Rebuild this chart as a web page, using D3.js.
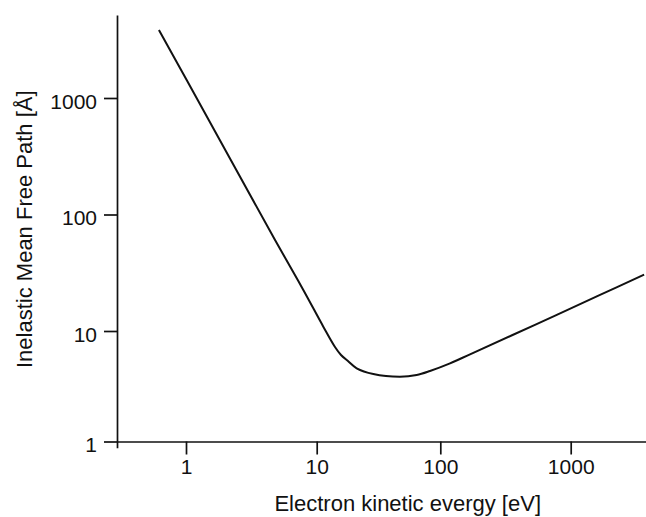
<!DOCTYPE html>
<html>
<head>
<meta charset="utf-8">
<script src="https://cdn.jsdelivr.net/npm/d3@7"></script>
<style>
  html, body { margin: 0; padding: 0; background: #fff; }
  svg { display: block; }
  text { font-family: "Liberation Sans", Arial, Helvetica, sans-serif; fill: #111; }
</style>
</head>
<body>
<svg id="chart" width="646" height="517"></svg>
<script>
// ---- data ----
const energy = [0.621, 1.012, 4.80, 7.90, 11.31, 14.06, 15.73, 17.9, 21.06, 28.7, 47.2, 64.4, 82.5, 118.7, 169, 532, 1677, 3648];
const imfp   = [3837, 1427, 60.4, 22.5, 10.9, 7.17, 6.07, 5.35, 4.60, 4.08, 3.86, 4.00, 4.35, 5.10, 6.15, 11.3, 20.4, 30.5];
const xTickValues = [1, 10, 100, 1000];
const xTickLabels = ["1", "10", "100", "1000"];
const yTickValues = [1, 10, 100, 1000];
const yTickLabels = ["1", "10", "100", "1000"];
const xTitle = "Electron kinetic evergy [eV]";
const yTitle = "Inelastic Mean Free Path [Å]";

// ---- scales ----
const x = d3.scaleLog()
  .domain([0.297, 1, 10, 100, 1000, 3770])
  .range([117, 186, 316.7, 440.3, 570.7, 646]);
const y = d3.scaleLog()
  .domain([0.879, 1, 10, 100, 1000, 5150])
  .range([447.7, 441.5, 331, 214.5, 98, 15]);

const svg = d3.select("#chart");
const tickFont = 21;
const titleFont = 22;
const FONT = '"Liberation Sans", Arial, Helvetica, sans-serif';

// x axis
const xAxis = d3.axisBottom(x)
  .tickValues(xTickValues)
  .tickFormat((d, i) => xTickLabels[i])
  .tickSize(13)
  .tickSizeOuter(0)
  .tickPadding(5);
const gx = svg.append("g")
  .attr("transform", `translate(0,${y(1)})`)
  .call(xAxis);

// y axis
const yAxis = d3.axisLeft(y)
  .tickValues(yTickValues)
  .tickFormat((d, i) => yTickLabels[i])
  .tickSize(13)
  .tickSizeOuter(0)
  .tickPadding(7);
const gy = svg.append("g")
  .attr("transform", `translate(${x(x.domain()[0])},0)`)
  .call(yAxis);
gy.selectAll(".tick text").attr("dy", "0.49em");

[gx, gy].forEach(g => {
  g.attr("font-family", FONT).attr("font-size", tickFont);
  g.selectAll("path.domain").attr("stroke", "#111").attr("stroke-width", 1.7);
  g.selectAll(".tick line").attr("stroke", "#111").attr("stroke-width", 1.7);
  g.selectAll(".tick text")
    .attr("font-size", tickFont)
    .style("font-family", FONT)
    .attr("fill", "#111");
});

// curve
const line = d3.line()
  .x((d, i) => x(energy[i]))
  .y((d, i) => y(imfp[i]))
  .curve(d3.curveCatmullRom.alpha(0.5));
svg.append("path")
  .datum(energy)
  .attr("d", line)
  .attr("fill", "none")
  .attr("stroke", "#111")
  .attr("stroke-width", 2);

// titles
svg.append("text")
  .attr("x", 541)
  .attr("y", 511)
  .attr("text-anchor", "end")
  .attr("font-size", titleFont)
  .text(xTitle);
svg.append("text")
  .attr("transform", "translate(32,368) rotate(-90)")
  .attr("text-anchor", "start")
  .attr("font-size", titleFont)
  .text(yTitle);
</script>
</body>
</html>
